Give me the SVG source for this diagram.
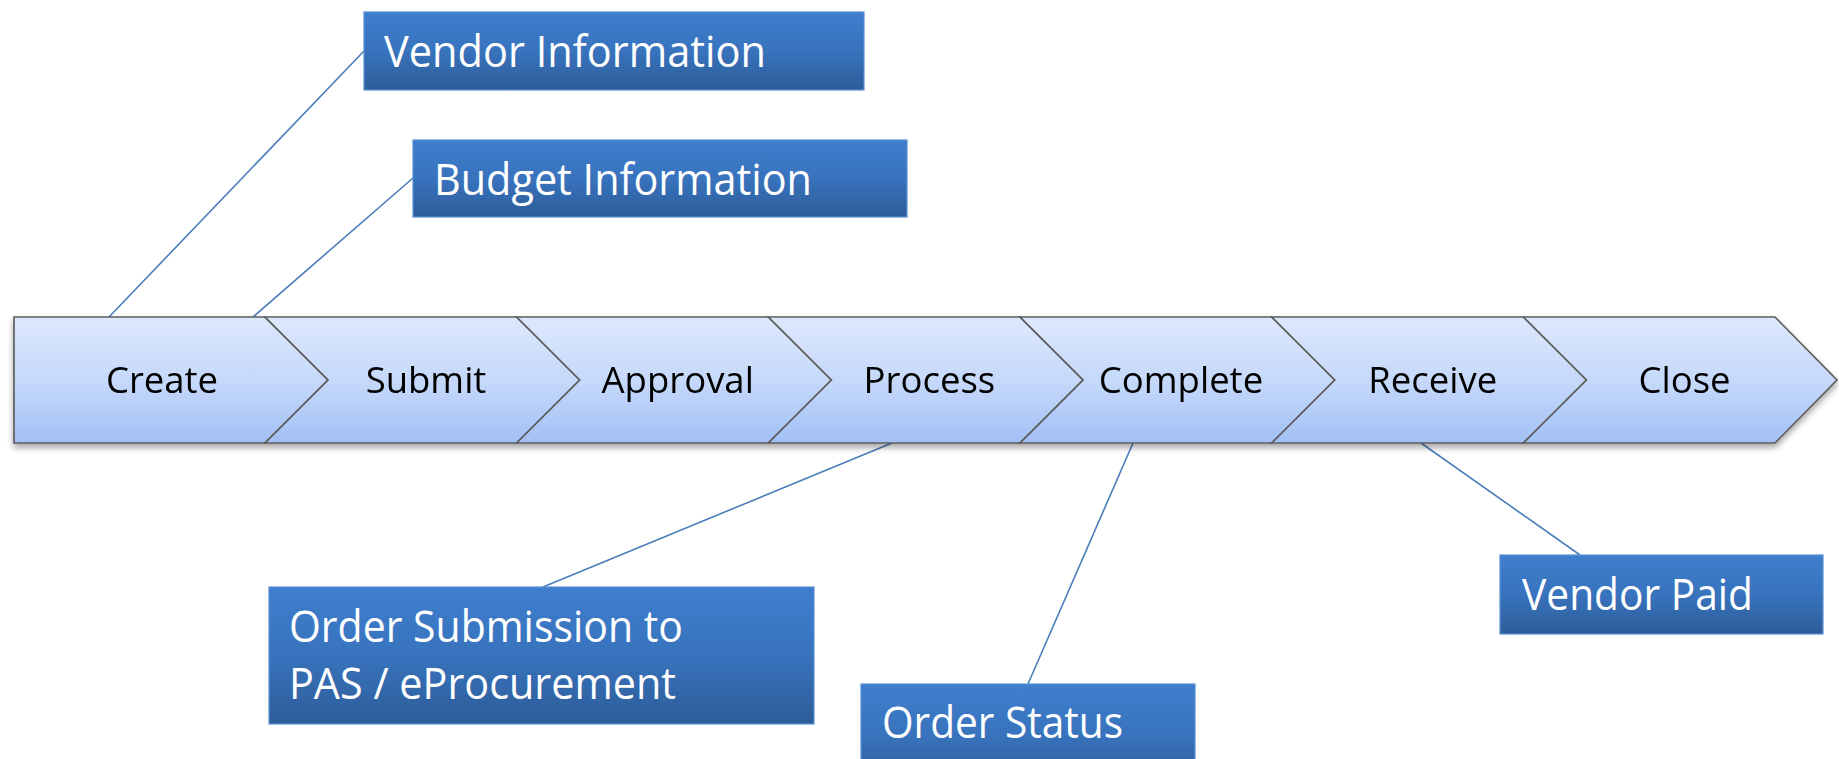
<svg xmlns="http://www.w3.org/2000/svg" width="1839" height="759" viewBox="0 0 1839 759">
<defs>
<linearGradient id="chev" x1="0" y1="0" x2="0" y2="1">
<stop offset="0" stop-color="#dde8fc"/>
<stop offset="0.5" stop-color="#c6d9fa"/>
<stop offset="1" stop-color="#a2c0f6"/>
</linearGradient>
<linearGradient id="box" x1="0" y1="0" x2="0" y2="1">
<stop offset="0" stop-color="#3e7fcd"/>
<stop offset="0.5" stop-color="#3873bd"/>
<stop offset="1" stop-color="#2d5c98"/>
</linearGradient>
<filter id="sh" x="-5%" y="-20%" width="110%" height="150%">
<feDropShadow dx="0" dy="4" stdDeviation="3" flood-color="#000" flood-opacity="0.35"/>
</filter>
</defs>
<style>
.chev{fill:url(#chev);stroke:#5e5e5e;stroke-width:1.7;stroke-linejoin:miter}
.ct{font-family:"Open Sans","Liberation Sans",sans-serif;font-size:36.5px;fill:#000;text-anchor:middle}
.box{fill:url(#box);stroke:#5b8fd2;stroke-width:1.2}
.bt{font-family:"Open Sans","Liberation Sans",sans-serif;font-size:43px;fill:#fff}
.con{stroke:#4a7ebb;stroke-width:1.6;fill:none}
</style>
<rect width="1839" height="759" fill="#fff"/>
<g id="connectors">
<line class="con" x1="364" y1="51" x2="109" y2="317"/>
<line class="con" x1="413" y1="178" x2="253" y2="317"/>
<line class="con" x1="892" y1="443" x2="543" y2="587"/>
<line class="con" x1="1133" y1="443" x2="1028" y2="684"/>
<line class="con" x1="1421" y1="443" x2="1580" y2="555"/>
</g>
<g id="bar" filter="url(#sh)">
<g id="n-create"><path class="chev" d="M14,317 L265,317 L328,380 L265,443 L14,443 Z"/><text class="ct" x="162" y="393">Create</text></g>
<g id="n-submit"><path class="chev" d="M265,317 L516.7,317 L579.7,380 L516.7,443 L265,443 L328,380 Z"/><text class="ct" x="426" y="393">Submit</text></g>
<g id="n-approval"><path class="chev" d="M516.7,317 L768.4,317 L831.4,380 L768.4,443 L516.7,443 L579.7,380 Z"/><text class="ct" x="677.7" y="393">Approval</text></g>
<g id="n-process"><path class="chev" d="M768.4,317 L1020.1,317 L1083.1,380 L1020.1,443 L768.4,443 L831.4,380 Z"/><text class="ct" x="929.4" y="393">Process</text></g>
<g id="n-complete"><path class="chev" d="M1020.1,317 L1271.8,317 L1334.8,380 L1271.8,443 L1020.1,443 L1083.1,380 Z"/><text class="ct" x="1181" y="393">Complete</text></g>
<g id="n-receive"><path class="chev" d="M1271.8,317 L1523.5,317 L1586.5,380 L1523.5,443 L1271.8,443 L1334.8,380 Z"/><text class="ct" x="1432.8" y="393">Receive</text></g>
<g id="n-close"><path class="chev" d="M1523.5,317 L1775,317 L1837,380 L1775,443 L1523.5,443 L1586.5,380 Z"/><text class="ct" x="1684.5" y="393">Close</text></g>
</g>
<g id="n-vendor-info"><rect class="box" x="364" y="12" width="500" height="78"/><text class="bt" x="384" y="67" textLength="382" lengthAdjust="spacingAndGlyphs">Vendor Information</text></g>
<g id="n-budget-info"><rect class="box" x="413" y="140" width="494" height="77"/><text class="bt" x="434" y="195" textLength="378" lengthAdjust="spacingAndGlyphs">Budget Information</text></g>
<g id="n-order-submission"><rect class="box" x="269" y="587" width="545" height="137"/><text class="bt" x="289" y="642" textLength="394" lengthAdjust="spacingAndGlyphs">Order Submission to</text><text class="bt" x="289" y="699" textLength="387" lengthAdjust="spacingAndGlyphs">PAS / eProcurement</text></g>
<g id="n-order-status"><rect class="box" x="861" y="684" width="334" height="100"/><text class="bt" x="882" y="738" textLength="241" lengthAdjust="spacingAndGlyphs">Order Status</text></g>
<g id="n-vendor-paid"><rect class="box" x="1500" y="555" width="323" height="79"/><text class="bt" x="1522" y="610" textLength="231" lengthAdjust="spacingAndGlyphs">Vendor Paid</text></g>
</svg>
